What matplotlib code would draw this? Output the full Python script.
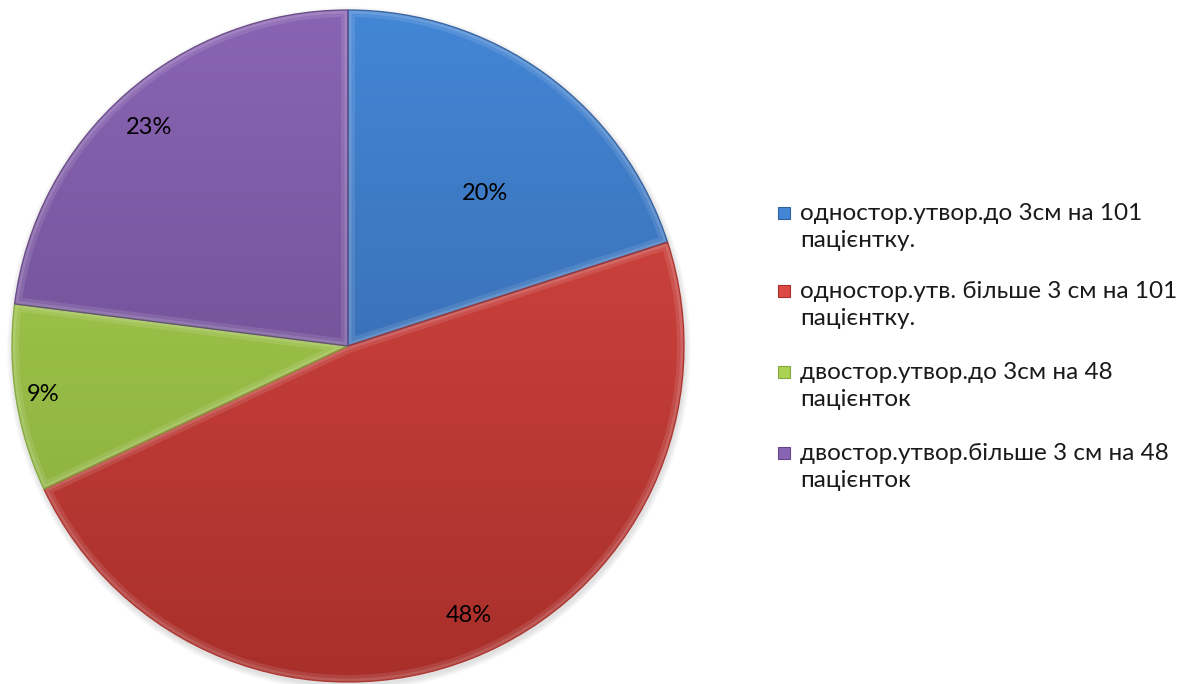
import numpy as np
import matplotlib
matplotlib.use('Agg')
import matplotlib.pyplot as plt
from matplotlib.colors import LinearSegmentedColormap
from matplotlib.patches import Rectangle, PathPatch

plt.rcParams['font.family'] = ['Lato', 'DejaVu Sans']

# shares of each group, %
labels = ['одностор.утвор.до 3см на 101\nпацієнтку.',
          'одностор.утв. більше 3 см на 101\nпацієнтку.',
          'двостор.утвор.до 3см на 48\nпацієнток',
          'двостор.утвор.більше 3 см на 48\nпацієнток']
shares = [20, 48, 9, 23]

# (top, bottom) shades for the gradient fill
shades = [('#4386d6', '#335f9c'),
          ('#dc4a45', '#a82f2b'),
          ('#abd253', '#85a83a'),
          ('#8a64b4', '#634685')]
# label placement: radius fraction and angle shift from the wedge middle
lbl_r = [0.61, 0.88, 0.92, 0.88]
lbl_da = [-6, 2.5, 0, 1]

W, H = 1189, 684
cx, cy, R = 348, H - 346, 336

fig = plt.figure(figsize=(W / 100, H / 100), dpi=100)
ax = fig.add_axes([0, 0, 1, 1])

# soft shadow under the pie
for k in range(6):
    ax.add_patch(plt.Circle((cx + 1, cy - 3), R + 1 + k, color='black',
                            alpha=0.02, lw=0))

wedges, _ = ax.pie(shares, startangle=90, counterclock=False, radius=R,
                   center=(cx, cy), frame=True,
                   wedgeprops=dict(linewidth=0))
ax.set_xlim(0, W)
ax.set_ylim(0, H)
ax.set_aspect('equal')
ax.axis('off')

grad = np.linspace(0, 1, 256).reshape(-1, 1)
for w, (top, bot), frac, r, da in zip(wedges, shades, shares, lbl_r, lbl_da):
    cmap = LinearSegmentedColormap.from_list('g', [top, bot])
    im = ax.imshow(grad, cmap=cmap, aspect='auto', origin='upper',
                   extent=[cx - R, cx + R, cy - R, cy + R], zorder=2)
    im.set_clip_path(w)
    # bevel highlight along the edges
    p = w.get_path()
    for lw, a in [(10, 0.10), (5, 0.12)]:
        hl = PathPatch(p, transform=w.get_transform(), fc='none',
                       ec='white', lw=lw, alpha=a, zorder=3)
        ax.add_patch(hl)
        hl.set_clip_path(w)
    ax.add_patch(PathPatch(p, transform=w.get_transform(), fc='none',
                           ec=bot, lw=1.0, alpha=0.9, zorder=4))

    mid = np.deg2rad((w.theta1 + w.theta2) / 2 + da)
    ax.text(cx + r * R * np.cos(mid), cy + r * R * np.sin(mid), f'{frac}%',
            ha='center', va='center', fontsize=17, color='black', zorder=5)

# legend
ys = [213, 291, 372, 453]
for y, lab, (top, bot) in zip(ys, labels, shades):
    ax.add_patch(Rectangle((778, H - y - 6), 12, 12, fc=top, ec=bot,
                           lw=0.8, zorder=5))
    ax.text(800, H - y - 14, lab, ha='left', va='center', fontsize=17.5,
            linespacing=1.3, color='#1a1a1a', zorder=5)

fig.savefig('out.png', dpi=100)
